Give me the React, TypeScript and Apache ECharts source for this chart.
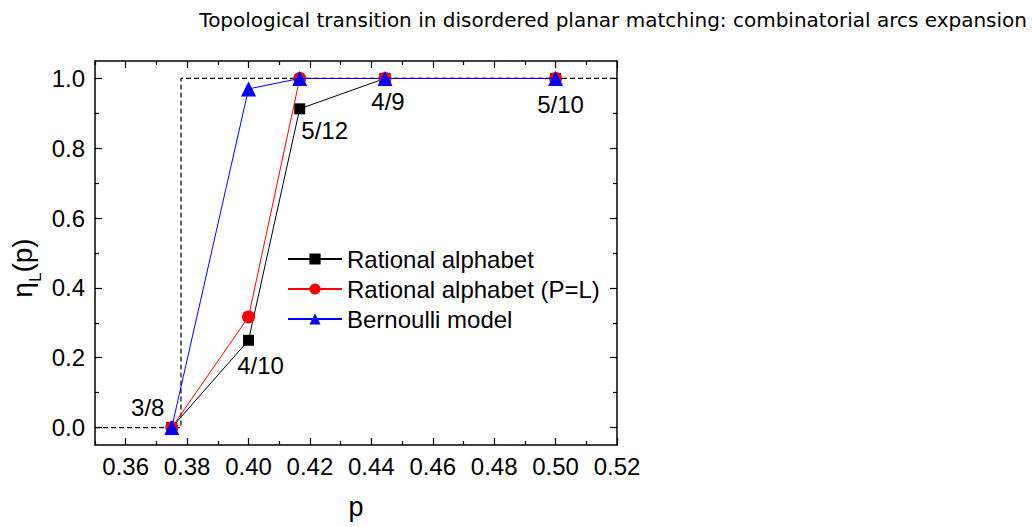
import React, { useEffect, useRef } from "react";
import * as echarts from "echarts";

const pValues = [3 / 8, 4 / 10, 5 / 12, 4 / 9, 5 / 10];
const fractionLabels = ["3/8", "4/10", "5/12", "4/9", "5/10"];
const rationalAlphabet = [0.0, 0.25, 0.913, 1.0, 1.0];
const rationalAlphabetPL = [0.0, 0.317, 1.0, 1.0, 1.0];
const bernoulliModel = [0.0, 0.97, 1.0, 1.0, 1.0];
const thresholdX = [0.35, 0.378, 0.378, 0.52];
const thresholdY = [0.0, 0.0, 1.0, 1.0];
const xMajorTicks = [0.36, 0.38, 0.4, 0.42, 0.44, 0.46, 0.48, 0.5, 0.52];
const xMinorTicks = [0.35, 0.37, 0.39, 0.41, 0.43, 0.45, 0.47, 0.49, 0.51];
const yMajorTicks = [0.0, 0.2, 0.4, 0.6, 0.8, 1.0];
const yMinorTicks = [0.1, 0.3, 0.5, 0.7, 0.9];
const seriesNames = ["Rational alphabet", "Rational alphabet (P=L)", "Bernoulli model"];
const titleText = "Topological transition in disordered planar matching: combinatorial arcs expansion";

const FONT = "'Liberation Sans', Arial, Helvetica, sans-serif";

export default function App() {
  const ref = useRef<HTMLDivElement>(null);

  useEffect(() => {
    if (!ref.current) return;
    const chart = echarts.init(ref.current, undefined, { renderer: "svg" });

    const lineAxis = { show: true, onZero: false, lineStyle: { color: "#000", width: 1.5 } };
    const noLine = { show: false, onZero: false };
    const xBase = { type: "value", min: 0.35, max: 0.52, interval: 0.01, splitLine: { show: false } };
    const yBase = { type: "value", min: -0.05, max: 1.05, interval: 0.05, splitLine: { show: false } };

    const mkX = (position: string, ticks: number[], len: number, labels: boolean, line: boolean, extra: any = {}) => ({
      ...xBase,
      position,
      axisLine: line ? lineAxis : noLine,
      axisTick: { show: true, inside: true, length: len, customValues: ticks, lineStyle: { color: "#000", width: 1.2 } },
      axisLabel: labels
        ? {
            show: true,
            customValues: ticks,
            formatter: (v: number) => v.toFixed(2),
            fontFamily: FONT,
            fontSize: 24,
            color: "#000",
            margin: 9,
          }
        : { show: false },
      ...extra,
    });
    const mkY = (position: string, ticks: number[], len: number, labels: boolean, line: boolean) => ({
      ...yBase,
      position,
      axisLine: line ? lineAxis : noLine,
      axisTick: { show: true, inside: true, length: len, customValues: ticks, lineStyle: { color: "#000", width: 1.2 } },
      axisLabel: labels
        ? {
            show: true,
            customValues: ticks,
            formatter: (v: number) => v.toFixed(1),
            fontFamily: FONT,
            fontSize: 24,
            color: "#000",
            margin: 10,
          }
        : { show: false },
    });

    const pairs = (ys: number[]) => pValues.map((p, i) => [p, ys[i]]);

    const labelOffsets: [number, number][] = [
      [-24, -20],
      [12, 25],
      [25, 22],
      [3, 23],
      [5, 26],
    ];

    const option: any = {
      animation: false,
      backgroundColor: "#fff",
      grid: { left: 95, right: 415, top: 61, bottom: 82, containLabel: false, outerBoundsMode: "none" },
      title: {
        text: titleText,
        right: 0,
        top: 5,
        textStyle: { fontFamily: "'DejaVu Sans', sans-serif", fontSize: 20, fontWeight: "normal", color: "#000" },
      },
      legend: {
        data: seriesNames,
        orient: "vertical",
        left: 282,
        top: 242,
        itemWidth: 54,
        itemHeight: 14,
        itemGap: 6,
        textStyle: { fontFamily: FONT, fontSize: 24, color: "#000", lineHeight: 24 },
      },
      xAxis: [
        mkX("bottom", xMajorTicks, 7, true, true, {
          name: "p",
          nameLocation: "middle",
          nameGap: 48,
          nameTextStyle: { fontFamily: FONT, fontSize: 27, color: "#000" },
        }),
        mkX("top", xMajorTicks, 7, false, true),
        mkX("bottom", xMinorTicks, 4, false, false),
        mkX("top", xMinorTicks, 4, false, false),
      ],
      yAxis: [
        mkY("left", yMajorTicks, 7, true, true),
        mkY("right", yMajorTicks, 7, false, true),
        mkY("left", yMinorTicks, 4, false, false),
        mkY("right", yMinorTicks, 4, false, false),
      ],
      graphic: [
        {
          type: "text",
          x: 26,
          y: 268,
          rotation: Math.PI / 2,
          style: {
            text: "{a|η}{b|L}{a|(p)}",
            align: "center",
            verticalAlign: "middle",
            fill: "#000",
            rich: {
              a: { fontFamily: FONT, fontSize: 28, fill: "#000", verticalAlign: "bottom", padding: [0, 0, 7, 0] },
              b: { fontFamily: FONT, fontSize: 17, fill: "#000", verticalAlign: "bottom" },
            },
          },
        },
      ],
      series: [
        {
          name: "threshold",
          type: "line",
          data: thresholdX.map((x, i) => [x, thresholdY[i]]),
          symbol: "none",
          silent: true,
          lineStyle: { color: "#000", width: 1.2, type: [5, 3] },
          z: 1,
        },
        {
          name: seriesNames[0],
          type: "line",
          data: pairs(rationalAlphabet),
          symbol: "rect",
          symbolSize: 11,
          itemStyle: { color: "#000" },
          lineStyle: { color: "#000", width: 1 },
          z: 2,
        },
        {
          name: seriesNames[1],
          type: "line",
          data: pairs(rationalAlphabetPL),
          symbol: "circle",
          symbolSize: 13,
          itemStyle: { color: "#ff0000" },
          lineStyle: { color: "#ff0000", width: 1 },
          z: 3,
        },
        {
          name: seriesNames[2],
          type: "line",
          data: pairs(bernoulliModel),
          symbol: "triangle",
          symbolSize: 15,
          itemStyle: { color: "#0000ff" },
          lineStyle: { color: "#0000ff", width: 1 },
          z: 4,
        },
        {
          name: "fractions",
          type: "scatter",
          silent: true,
          symbolSize: 0,
          itemStyle: { opacity: 1, color: "#000" },
          z: 10,
          data: pValues.map((p, i) => ({
            value: [p, rationalAlphabet[i]],
            label: {
              show: true,
              formatter: fractionLabels[i],
              position: "inside",
              offset: labelOffsets[i],
              fontFamily: FONT,
              fontSize: 24,
              color: "#000",
              opacity: 1,
              textBorderWidth: 0,
            },
          })),
        },
      ],
    };

    chart.setOption(option);
    return () => chart.dispose();
  }, []);

  return (
    <div
      ref={ref}
      style={{ position: "fixed", left: 0, top: 0, width: 1032, height: 527, background: "#fff" }}
    />
  );
}
